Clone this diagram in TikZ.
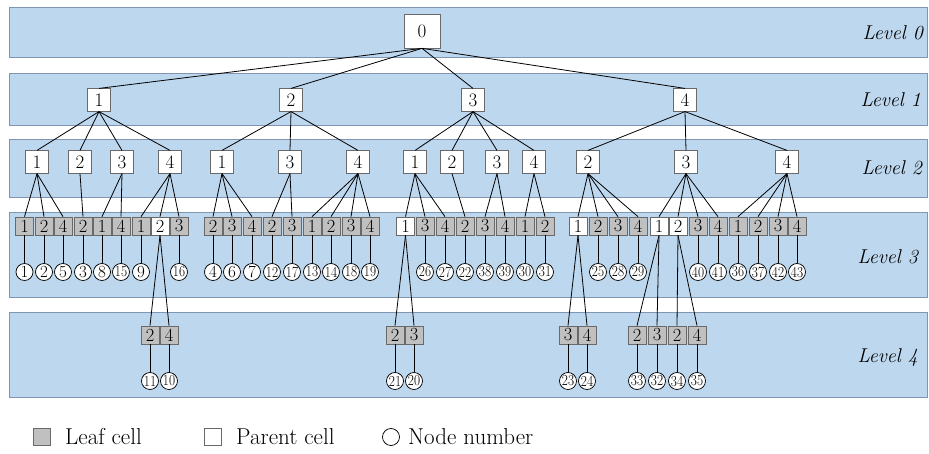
\documentclass[tikz,border=0pt]{standalone}
\usepackage{graphicx}
\definecolor{bandfill}{RGB}{189,215,238}
\definecolor{bandline}{RGB}{128,150,176}
\definecolor{leafgray}{RGB}{192,192,192}
\definecolor{cellline}{RGB}{105,105,105}
\newcommand\sqz[1]{\scalebox{0.78}[0.9]{#1}}
\begin{document}
\begin{tikzpicture}[x=1pt,y=-1pt,
  band/.style={draw=bandline, fill=bandfill, line width=0.8pt},
  leaf/.style={draw=cellline, fill=leafgray, minimum width=18pt, minimum height=18pt, inner sep=0pt, font=\fontsize{18.5}{18}\selectfont, line width=0.7pt},
  pcell/.style={leaf, fill=white},
  ubox/.style={draw=cellline, fill=white, minimum width=22.5pt, minimum height=22.5pt, inner sep=0pt, font=\fontsize{19}{19}\selectfont, line width=0.7pt},
  num/.style={draw=black, fill=white, circle, minimum size=17pt, inner sep=0pt, font=\fontsize{17}{17}\selectfont, line width=0.75pt},
  conn/.style={draw=black, line width=0.8pt},
  lvl/.style={font=\fontsize{20}{20}\selectfont\itshape, anchor=east, inner sep=0pt},
  legtext/.style={font=\fontsize{23}{23}\selectfont, anchor=west, inner sep=0pt}
]
\useasboundingbox (0,0) rectangle (929,453);
% bands
\draw[band] (9,7) rectangle (927,57);
\draw[band] (9,73) rectangle (927,125);
\draw[band] (9,139) rectangle (927,197);
\draw[band] (9,212) rectangle (927,297);
\draw[band] (9,312) rectangle (927,397);
\node[lvl] (lv0) at (923,33) {Level 0};
\node[lvl] (lv1) at (921,100) {Level 1};
\node[lvl] (lv2) at (922,168) {Level 2};
\node[lvl] (lv3) at (918,257) {Level 3};
\node[lvl] (lv4) at (918,357) {Level 4};
% level 0
\node[ubox, minimum width=36pt, minimum height=34pt] (r) at (422,31) {0};
% level 1
\foreach \i/\x/\t in {1/99/1, 2/291/2, 3/473/3, 4/685/4}
  \node[ubox] (a\i) at (\x,100) {\t};
% level 2
\foreach \i/\x/\t in {1/37/1, 2/80/2, 3/122/3, 4/170/4, 5/222/1, 6/290/3, 7/358/4,
  8/415/1, 9/452/2, 10/497/3, 11/534/4, 12/588/2, 13/686/3, 14/787/4}
  \node[ubox] (b\i) at (\x,162) {\t};
% level 3 leaves with node numbers
\foreach \i/\x/\t/\n in {1/24.5/1/1, 2/44/2/2, 3/63/4/5, 4/83/2/3, 5/102/1/8, 6/121/4/15,
  7/141/1/9, 9/179/3/16, 10/213/2/4, 11/232/3/6, 12/252/4/7, 13/272/2/12, 14/292/3/17,
  15/312/1/13, 16/331/2/14, 17/351/3/18, 18/370/4/19, 20/425/3/26, 21/445/4/27,
  22/465/2/22, 23/485/3/38, 24/505/4/39, 25/525/1/30, 26/545/2/31, 28/598/2/25,
  29/618/3/28, 30/638/4/29, 33/698/3/40, 34/718/4/41, 35/738/1/36, 36/758/2/37,
  37/778/3/42, 38/797/4/43}
{
  \node[leaf] (c\i) at (\x,226) {\t};
  \node[num] (k\i) at (\x,272) {\ifnum\n>9 \sqz{\n}\else\n\fi};
  \draw[conn] (c\i.south) -- (k\i.north);
}
% level 3 parents
\foreach \i/\x/\t in {8/160/2, 19/405.5/1, 27/578/1, 31/659/1, 32/678/2}
  \node[pcell] (c\i) at (\x,226) {\t};
% level 4
\foreach \i/\x/\t/\n in {1/150/2/11, 2/169/4/10, 3/395/2/21, 4/414/3/20, 5/568/3/23,
  6/587/4/24, 7/637/2/33, 8/657/3/32, 9/677/2/34, 10/697/4/35}
{
  \node[leaf] (m\i) at (\x,335) {\t};
  \node[num] (q\i) at (\x,381) {\sqz{\n}};
  \draw[conn] (m\i.south) -- (q\i.north);
}
% tree edges
\foreach \p/\c in {r/a1, r/a2, r/a3, r/a4,
  a1/b1, a1/b2, a1/b3, a1/b4, a2/b5, a2/b6, a2/b7, a3/b8, a3/b9, a3/b10, a3/b11,
  a4/b12, a4/b13, a4/b14,
  b1/c1, b1/c2, b1/c3, b2/c4, b3/c5, b3/c6, b4/c7, b4/c8, b4/c9,
  b5/c10, b5/c11, b5/c12, b6/c13, b6/c14, b7/c15, b7/c16, b7/c17, b7/c18,
  b8/c19, b8/c20, b8/c21, b9/c22, b10/c23, b10/c24, b11/c25, b11/c26,
  b12/c27, b12/c28, b12/c29, b12/c30, b13/c31, b13/c32, b13/c33, b13/c34,
  b14/c35, b14/c36, b14/c37, b14/c38,
  c8/m1, c8/m2, c19/m3, c19/m4, c27/m5, c27/m6, c31/m7, c31/m8, c32/m9, c32/m10}
  \draw[conn] (\p.south) -- (\c.north);
% legend
\node[leaf, minimum width=17pt, minimum height=17pt] (gl) at (41.5,437) {};
\node[legtext] (tl) at (65,437) {Leaf cell};
\node[pcell, minimum width=17pt, minimum height=17pt] (gp) at (213,437) {};
\node[legtext] (tp) at (236,437) {Parent cell};
\node[num] (gn) at (391,437) {};
\node[legtext] (tn) at (408,437) {Node number};
\end{tikzpicture}
\end{document}
